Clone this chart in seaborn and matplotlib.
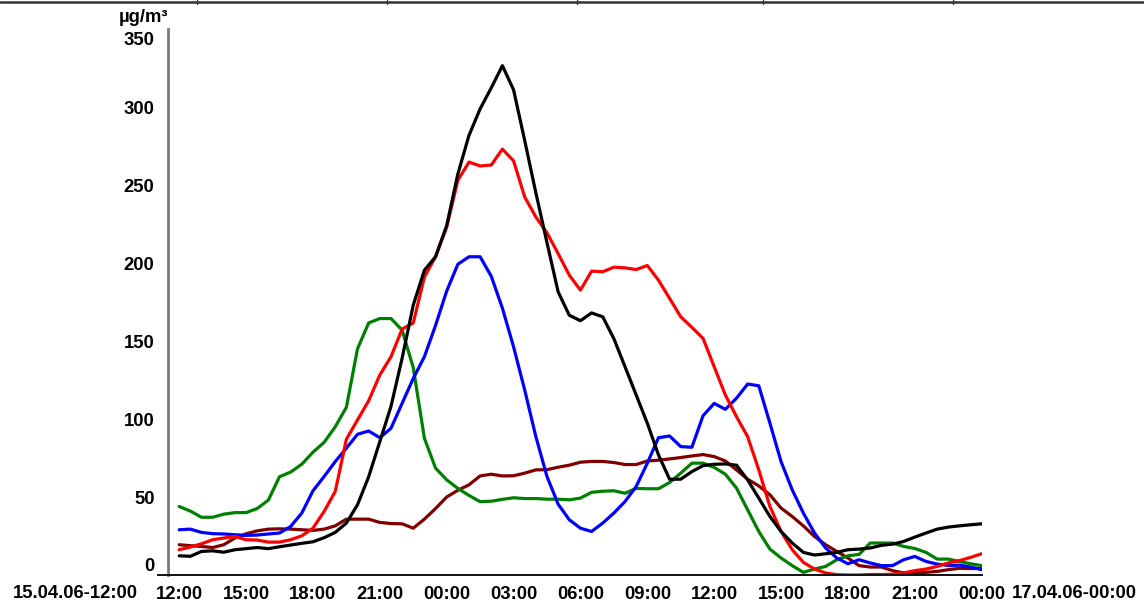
"""
Half-hourly concentrations, 15.04.06 12:00 - 17.04.06 00:00
"""
#------------------------------------------------------------------------------
# Libraries
#------------------------------------------------------------------------------

import numpy as np
import pandas as pd
import seaborn as sns
import matplotlib
matplotlib.use('Agg')
import matplotlib.pyplot as plt
import matplotlib.dates as mdates
from matplotlib.lines import Line2D
from matplotlib.transforms import ScaledTranslation

#------------------------------------------------------------------------------
# Data (one value every 30 min)
#------------------------------------------------------------------------------

times = pd.date_range('2006-04-15 12:00', '2006-04-17 00:00', freq='30min')

green = [43.9, 41, 37, 37, 39, 40, 40, 42.6, 48, 63, 66, 71,
         78.7, 85, 95, 107.5, 145, 161.6, 164.4, 164.4, 157, 133, 87.7, 68.5,
         61, 55.5, 51, 47, 47.3, 48.5, 49.5, 49, 49, 48.6, 48.6, 48.2,
         49.3, 53, 53.7, 54, 52.4, 55.5, 55.3, 55.3, 59.3, 65.3, 71.7, 71.7,
         69, 64.6, 55.7, 41.8, 27.9, 16.6, 10.9, 6, 1.7, 3.8, 5.5, 9.8,
         12.3, 13.2, 20.5, 20.5, 20.5, 18.3, 17, 14.5, 10.2, 10.2, 8.7, 7.2,
         6]

black = [12.3, 12, 15.1, 15.5, 14.6, 16.2, 16.9, 17.6, 16.9, 18.1, 19.2, 20.3,
         21.3, 23.9, 27.3, 33.3, 45, 63, 85.5, 108, 138.9, 173, 195.4, 204,
         224, 257, 281.8, 298.8, 312.3, 326.5, 311, 278.5, 245, 213, 181.5, 166.5,
         163, 168, 165.5, 151.5, 133.5, 115.4, 97.3, 77, 61.4, 61.4, 66.3, 70.1,
         71, 71.2, 70.4, 61, 49.3, 37.5, 27.9, 20.5, 14.5, 12.8, 13.6, 14.5,
         16.2, 16.6, 17.3, 19, 19.8, 21.5, 24.3, 26.9, 29.4, 30.7, 31.5, 32.2,
         32.8]

red = [16.2, 17.9, 20, 22.6, 23.7, 24.7, 22.6, 22.4, 21.1, 21.1, 22.6, 25.1,
       30, 40.7, 53.5, 87, 99.4, 111.7, 128.2, 139.9, 157.6, 161.6, 191, 204,
       223, 253, 264.7, 262.2, 262.8, 273, 265.5, 242.3, 229.5, 219.3, 206, 192.2,
       182.6, 194.8, 194.4, 197.3, 196.9, 195.8, 198.4, 189, 177.3, 165.5, 158.7, 151.7,
       133.5, 115.4, 101.5, 88.7, 67.4, 43.9, 27.9, 16.2, 8.1, 3.8, 1.3, 0.2,
       0, 0, 0.3, 0.3, 0.5, 1.3, 2.8, 3.8, 5.5, 7.7, 9.2, 11.3,
       13.6]

blue = [29, 29.4, 27.3, 26.5, 26.3, 25.8, 25.4, 25.6, 26.3, 26.9, 31.1, 39.7,
        53.9, 63.1, 72.7, 81.3, 90.2, 92.3, 88, 94, 110, 126, 139.9, 160,
        182, 199.2, 204, 204, 191.5, 171, 146.3, 118.6, 88.7, 63.1, 45.4, 35.4,
        30, 27.9, 33.3, 39.7, 47.1, 56.7, 71.7, 88, 89.1, 82.3, 81.9, 102.1,
        110, 106.2, 113.3, 122.4, 121.3, 97.3, 72.7, 54.6, 39.7, 26.9, 17.3, 10.9,
        7.2, 9.8, 7.7, 6, 6, 9.8, 11.9, 8.7, 7, 6.1, 6.3, 5.1,
        3.4]

maroon = [19.4, 18.8, 18.3, 17.6, 19.4, 23.7, 26.4, 28.3, 29.4, 29.6, 29.4, 29,
          28.6, 29.4, 31.5, 35.8, 35.8, 35.8, 33.7, 33, 32.8, 30, 35.8, 42.6,
          50, 54.3, 57.8, 63.5, 64.6, 63.5, 63.6, 65.3, 67.4, 67.5, 69.1, 70.4,
          72.3, 72.8, 72.8, 72.1, 70.8, 70.8, 73.1, 73.6, 74.4, 75.3, 76.3, 77.2,
          75.9, 73.1, 67.4, 61.4, 57.1, 51.4, 42.9, 37.5, 31.5, 24.7, 19.4, 15.1,
          10.9, 6, 5.1, 5.1, 2.8, 1.3, 1.3, 1.7, 2.3, 3.4, 4.3, 4.1,
          4.3]

series = {'maroon': maroon, 'green': green, 'blue': blue, 'red': red, 'black': black}
colors = {'maroon': '#800000', 'green': '#008000', 'blue': '#0000ff',
          'red': '#ff0000', 'black': '#000000'}

unit_label = 'µg/m³'
yticks = [0, 50, 100, 150, 200, 250, 300, 350]

df = pd.concat([pd.DataFrame({'time': times, 'value': v, 'series': k})
                for k, v in series.items()], ignore_index=True)

#------------------------------------------------------------------------------
# Style
#------------------------------------------------------------------------------

sns.set_style('white')
plt.rcParams['font.family'] = ['Liberation Sans', 'DejaVu Sans']
plt.rcParams['font.weight'] = 'bold'
plt.rcParams['text.color'] = 'black'
plt.rcParams['xtick.labelcolor'] = 'black'
plt.rcParams['ytick.labelcolor'] = 'black'
fs = 13.3

W, H = 1144, 605
fig = plt.figure(figsize=(W / 100, H / 100), dpi=100)
ax = fig.add_axes([158 / W, (H - 575) / H, (981.7 - 158) / W, 546 / H])

#------------------------------------------------------------------------------
# Plot
#------------------------------------------------------------------------------

sns.lineplot(data=df, x='time', y='value', hue='series',
             hue_order=list(series.keys()), palette=colors,
             estimator=None, linewidth=2.3, legend=False, ax=ax)

ax.set_xlim(times[0] - pd.Timedelta(minutes=57), times[-1])
ax.set_ylim(0, 350)
ax.set_xlabel('')
ax.set_ylabel('')

for s in ['top', 'right']:
    ax.spines[s].set_visible(False)
ax.spines['left'].set_position(('data', mdates.date2num(times[0] - pd.Timedelta(minutes=30))))
ax.spines['left'].set_color('#7a7a7a')
ax.spines['left'].set_linewidth(2)
ax.spines['bottom'].set_color('#111111')
ax.spines['bottom'].set_linewidth(1.4)

ax.xaxis.set_major_locator(mdates.HourLocator(byhour=range(0, 24, 3)))
ax.xaxis.set_minor_locator(mdates.HourLocator())
ax.xaxis.set_major_formatter(mdates.DateFormatter('%H:%M'))
ax.set_yticks(yticks)
ax.tick_params(axis='x', which='both', direction='out', length=6, width=1.2,
               color='#222222', labelsize=fs, pad=2)
ax.tick_params(axis='y', direction='out', length=7.2, width=1.2,
               color='#111111', labelsize=fs, pad=2.5)

ylabels = ax.get_yticklabels()
ylabels[0].set_va('bottom')
ylabels[-1].set_va('top')
ylabels[-1].set_transform(ylabels[-1].get_transform()
                          + ScaledTranslation(0, -3 / 100, fig.dpi_scale_trans))

fig.text(144 / W, 1 - 18 / H, unit_label, ha='center', va='center',
         fontsize=fs, fontweight='bold')
fig.text(138 / W, 1 - 593 / H, times[0].strftime('%d.%m.%y-%H:%M'),
         ha='right', va='center', fontsize=fs, fontweight='bold')
fig.text(1012 / W, 1 - 593 / H, times[-1].strftime('%d.%m.%y-%H:%M'),
         ha='left', va='center', fontsize=fs, fontweight='bold')

# frame line at the very top
fig.add_artist(Line2D([0, 1], [1 - 1.5 / H] * 2, transform=fig.transFigure,
                      color='#333333', lw=1.8))
for xp in [197, 387, 577, 763, 953]:
    fig.add_artist(Line2D([xp / W] * 2, [1, 1 - 4 / H], transform=fig.transFigure,
                          color='#333333', lw=1))

fig.savefig('out.png', dpi=100)
